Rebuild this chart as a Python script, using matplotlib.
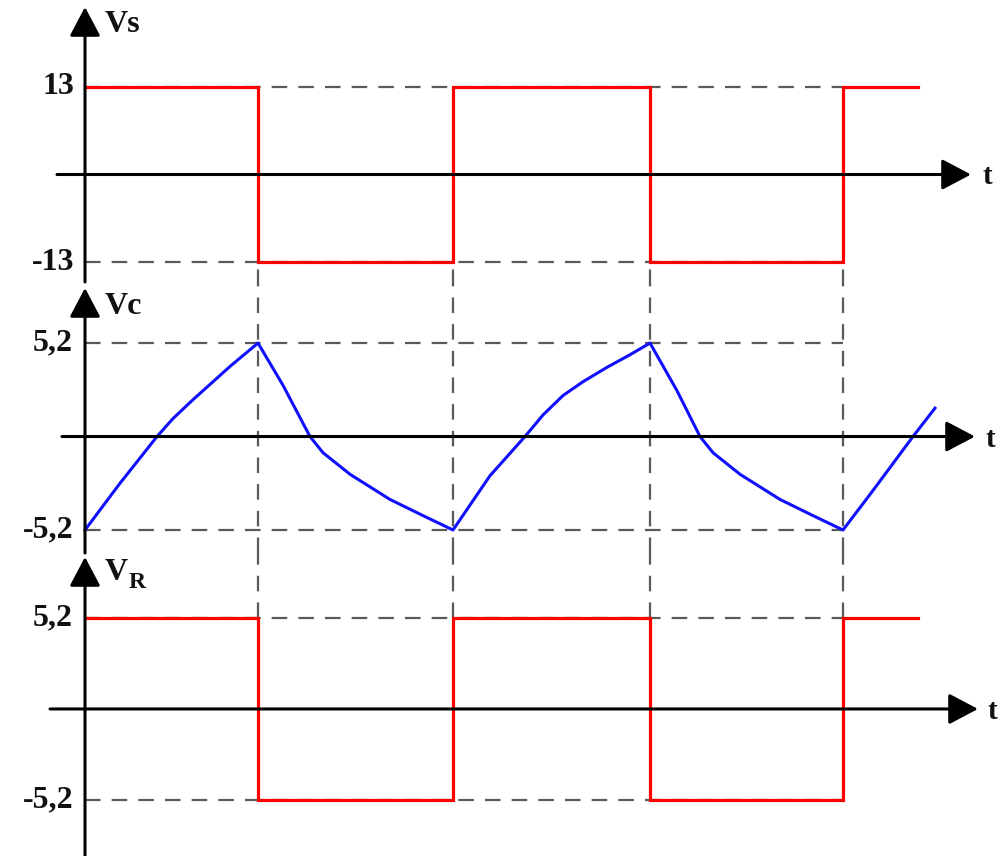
import matplotlib
matplotlib.use("Agg")
import matplotlib.pyplot as plt
import numpy as np

# ---- data ----
t_edges = [0.0, 1.73, 3.68, 5.65, 7.58, 8.33]          # switching instants (end of last segment)
vs_levels = [13, -13, 13, -13, 13]                       # source square wave
vr_levels = [5.2, -5.2, 5.2, -5.2, 5.2]                  # resistor voltage
vc_t = [0.0, 0.35, 0.72, 0.88, 1.08, 1.22, 1.45, 1.73,
        1.98, 2.25, 2.38, 2.65, 3.05, 3.38, 3.68,
        4.05, 4.40, 4.58, 4.78, 4.98, 5.22, 5.45, 5.65,
        5.92, 6.15, 6.28, 6.55, 6.95, 7.28, 7.58,
        7.88, 8.28, 8.50]
vc_v = [-5.2, -2.6, 0.0, 1.0, 2.05, 2.75, 3.9, 5.2,
        2.85, 0.0, -0.9, -2.1, -3.5, -4.4, -5.2,
        -2.18, 0.0, 1.2, 2.28, 3.05, 3.85, 4.55, 5.2,
        2.55, 0.0, -0.9, -2.1, -3.5, -4.4, -5.2,
        -3.0, 0.0, 1.58]
ticks_vs = [13, -13]
ticks_vs_labels = ["13", "-13"]
ticks_v = [5.2, -5.2]
ticks_v_labels = ["5,2", "-5,2"]
panel_names = ["Vs", "Vc", "V"]

FONT = "Liberation Serif"
RED = "#ff0000"
BLUE = "#1010ff"
GRAY = "#5a5a5a"

W, H = 1002, 856
fig = plt.figure(figsize=(W / 100, H / 100), dpi=100)

def px_axes(y0, y1):
    return fig.add_axes([0, 1 - y1 / H, 1, (y1 - y0) / H])

# axes boundaries in pixels (top, bottom)
ax1 = px_axes(0, 285)
ax2 = px_axes(285, 553)
ax3 = px_axes(553, 856)

xlim = (-0.85, 9.17)
ax1.set_ylim(-16.4, 25.9)
ax2.set_ylim(-6.48, 8.43)
ax3.set_ylim(-8.4, 8.91)
for ax in (ax1, ax2, ax3):
    ax.set_xlim(*xlim)
    ax.axis("off")

def square(levels):
    xs, ys = [], []
    for i, lv in enumerate(levels):
        xs += [t_edges[i], t_edges[i + 1]]
        ys += [lv, lv]
    return xs, ys

dash = dict(color=GRAY, lw=1.6, dashes=(7, 5))
t_last = t_edges[4]

def px_to_y(ax, py, y0, y1):
    lo, hi = ax.get_ylim()
    return hi - (py - y0) / (y1 - y0) * (hi - lo)

# ---- dashed guides ----
for lv in ticks_vs:
    ax1.plot([0, t_last], [lv, lv], **dash, zorder=1)
for ax in (ax2, ax3):
    for lv in ticks_v:
        ax.plot([0, t_last], [lv, lv], **dash, zorder=1)
for tt in t_edges[1:5]:
    ax1.plot([tt, tt], [ax1.get_ylim()[0], -13], **dash, zorder=1)
    ax2.plot([tt, tt], list(ax2.get_ylim()), **dash, zorder=1)
    ax3.plot([tt, tt], [5.2, ax3.get_ylim()[1]], **dash, zorder=1)

# ---- signals ----
x, y = square(vs_levels)
ax1.plot(x, y, color=RED, lw=2.3, zorder=3, solid_joinstyle="miter")
ax2.plot(vc_t, vc_v, color=BLUE, lw=2.2, zorder=3, solid_joinstyle="round")
x, y = square(vr_levels)
ax3.plot(x, y, color=RED, lw=2.3, zorder=3, solid_joinstyle="miter")

# ---- axes with arrows ----
arrow_style = "-|>,head_length=1.8,head_width=0.95"
def arrow(ax, p0, p1):
    ax.annotate("", xy=p1, xytext=p0,
                arrowprops=dict(arrowstyle=arrow_style, color="black", lw=2.2,
                                mutation_scale=10, shrinkA=0, shrinkB=0),
                annotation_clip=False, zorder=5)

# vertical axes (pixel extents converted)
arrow(ax1, (0, px_to_y(ax1, 282, 0, 285)), (0, px_to_y(ax1, 7, 0, 285)))
arrow(ax2, (0, px_to_y(ax2, 553, 285, 553)), (0, px_to_y(ax2, 288, 285, 553)))
arrow(ax3, (0, px_to_y(ax3, 856, 553, 856)), (0, px_to_y(ax3, 557, 553, 856)))
# horizontal time axes
arrow(ax1, (-0.28, 0), (8.86, 0))
arrow(ax2, (-0.23, 0), (8.90, 0))
arrow(ax3, (-0.35, 0), (8.93, 0))

tfont = dict(family=FONT, weight="bold", color="#111111")
for ax, xt in ((ax1, 8.97), (ax2, 9.00), (ax3, 9.03)):
    ax.text(xt, -0.3 if ax is ax1 else -0.15, "t", fontsize=21, ha="left", va="center", **tfont)

# tick labels
for lv, lb in zip(ticks_vs, ticks_vs_labels):
    ax1.text(-0.11, lv, lb, fontsize=23, ha="right", va="center", **tfont)
for ax in (ax2, ax3):
    for lv, lb in zip(ticks_v, ticks_v_labels):
        ax.text(-0.12, lv, lb, fontsize=23, ha="right", va="center", **tfont)

# panel names
ax1.text(0.20, px_to_y(ax1, 25, 0, 285), panel_names[0], fontsize=23, ha="left", va="center", **tfont)
ax2.text(0.20, px_to_y(ax2, 307, 285, 553), panel_names[1], fontsize=23, ha="left", va="center", **tfont)
ax3.text(0.20, px_to_y(ax3, 573, 553, 856), panel_names[2], fontsize=23, ha="left", va="center", **tfont)
ax3.text(0.44, px_to_y(ax3, 583, 553, 856), "R", fontsize=17, ha="left", va="center", **tfont)

fig.savefig("out.png", dpi=100, facecolor="white")
